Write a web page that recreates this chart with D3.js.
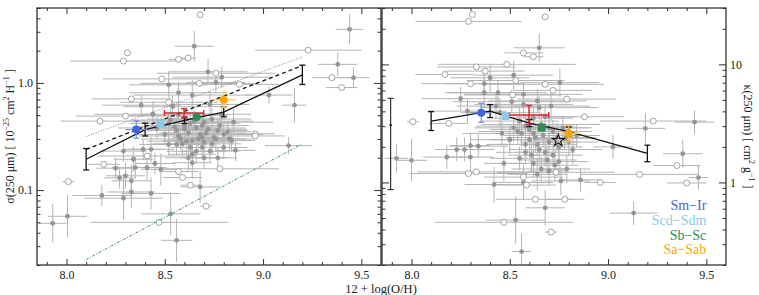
<!DOCTYPE html>
<html>
<head>
<meta charset="utf-8">
<script src="https://cdn.jsdelivr.net/npm/d3@7"></script>
<style>
  body { margin: 0; background: #fff; }
  svg { display: block; font-family: "Liberation Serif", "DejaVu Serif", serif; }
</style>
</head>
<body>
<svg id="chart" width="759" height="295"></svg>
<script>
// --- data ---
const ohDomain = [7.85, 9.6];
const sigmaDomain = [0.02, 5];
const kappaDomain = [0.2, 30];

// gray galaxies, filled: [12+log(O/H), value, err O/H, err (dex)]
const sigmaFilled = [
  [9.44,3.16,0.07,0.14],[8.65,2.2,0.1,0.14],[9.38,1.49,0.1,0.11],[9.46,1.12,0.08,0.1],
  [9.03,0.77,0.12,0.08],[9.16,0.62,0.06,0.16],[8.72,1.27,0.2,0.12],[8.79,1.13,0.25,0.1],
  [8.52,0.96,0.2,0.12],[8.57,0.81,0.25,0.1],[8.38,0.62,0.2,0.1],[8.44,0.51,0.3,0.12],
  [8.76,1.01,0.15,0.1],[8.64,0.77,0.3,0.14],[8.73,0.63,0.2,0.12],[8.54,0.6,0.25,0.1],
  [8.79,0.51,0.15,0.1],[8.52,0.42,0.2,0.1],[8.56,0.36,0.15,0.12],[8.6,0.4,0.2,0.1],
  [8.62,0.34,0.15,0.1],[8.66,0.38,0.25,0.12],[8.68,0.33,0.2,0.1],[8.7,0.43,0.15,0.08],
  [8.72,0.37,0.2,0.1],[8.75,0.31,0.1,0.1],[8.78,0.4,0.15,0.1],[8.82,0.35,0.12,0.1],
  [8.85,0.43,0.2,0.12],[8.58,0.3,0.2,0.1],[8.64,0.29,0.15,0.12],[8.5,0.33,0.15,0.1],
  [8.46,0.38,0.2,0.1],[8.7,0.28,0.15,0.1],[7.93,0.049,0.07,0.18],[8.005,0.057,0.1,0.2],
  [8.18,0.089,0.15,0.1],[8.29,0.084,0.2,0.2],[8.33,0.096,0.12,0.15],[8.43,0.093,0.15,0.15],
  [8.53,0.06,0.15,0.2],[8.56,0.034,0.08,0.2],[8.68,0.107,0.1,0.15],[9.13,0.26,0.12,0.08],
  [8.25,0.16,0.1,0.1],[8.30,0.136,0.1,0.12],[8.27,0.13,0.08,0.1],[8.33,0.122,0.1,0.15],
  [8.34,0.194,0.1,0.12],[8.35,0.162,0.12,0.1],[8.41,0.162,0.1,0.12],[8.48,0.156,0.1,0.15],
  [8.45,0.177,0.1,0.1],[8.29,0.231,0.12,0.1],[8.39,0.24,0.1,0.1],[8.43,0.24,0.12,0.12],
  [8.56,0.267,0.15,0.1],[8.64,0.216,0.12,0.12],[8.64,0.18,0.1,0.15],[8.73,0.231,0.15,0.1],
  [8.80,0.25,0.12,0.1],[8.86,0.235,0.1,0.1],[8.76,0.30,0.15,0.12],[8.83,0.30,0.12,0.1],
  [8.61,0.286,0.2,0.12],[8.69,0.31,0.15,0.1],[8.52,0.267,0.15,0.1],[8.57,0.32,0.2,0.1],
  [8.69,0.25,0.12,0.1],[8.63,0.25,0.1,0.1],
  [8.53,0.45,0.2,0.1],[8.57,0.5,0.25,0.12],[8.61,0.46,0.2,0.1],[8.65,0.44,0.3,0.1],
  [8.69,0.4,0.2,0.12],[8.74,0.46,0.2,0.1],[8.77,0.36,0.15,0.12],[8.8,0.33,0.2,0.1],
  [8.84,0.29,0.12,0.1],[8.6,0.37,0.2,0.12],[8.63,0.42,0.25,0.1],[8.67,0.3,0.15,0.1],
  [8.71,0.34,0.2,0.12],[8.74,0.27,0.15,0.1],[8.55,0.39,0.2,0.1],[8.59,0.27,0.15,0.1],
  [8.66,0.23,0.15,0.12],[8.7,0.2,0.12,0.1],[8.62,0.2,0.12,0.12],[8.77,0.2,0.1,0.1]
];
// gray galaxies, open: [12+log(O/H), value, err O/H]
const sigmaOpen = [
  [8.68,4.33,0],[8.31,1.91,0],[8.29,1.6,0.27],[8.57,1.66,0.05],[8.62,1.71,0.04],
  [9.23,2.02,0.27],[9.35,1.12,0.1],[9.40,0.905,0.08],[8.485,1.09,0.3],[8.676,0.99,0.3],
  [8.76,1.23,0.3],[8.88,0.97,0.2],[8.33,0.71,0.2],[8.30,0.49,0.25],[8.17,0.44,0.2],
  [8.52,0.66,0.25],[8.96,0.335,0.1],[8.19,0.174,0.08],[8.01,0.12,0.03],[8.57,0.149,0.1],
  [8.59,0.131,0.1],[8.63,0.111,0.05],[8.78,0.158,0.3],[8.71,0.0707,0.03],[8.47,0.05,0.35],
  [8.96,0.32,0.15],[8.41,0.208,0.25]
];
const kappaFilled = [
  [8.65,13.8,0.13,0.12],[9.44,3.24,0.1,0.1],[9.19,2.87,0.1,0.13],[8.40,7.7,0.2,0.12],
  [8.52,8.1,0.2,0.12],[8.37,6.86,0.2,0.1],[8.44,5.75,0.25,0.1],[8.37,5.75,0.2,0.12],
  [8.57,5.57,0.3,0.1],[8.755,7.0,0.2,0.12],[8.25,5.12,0.2,0.1],[8.285,4.02,0.2,0.1],
  [8.51,4.83,0.3,0.1],[8.64,4.9,0.25,0.1],[8.57,4.58,0.25,0.1],[8.65,4.3,0.3,0.1],
  [8.71,4.43,0.2,0.12],[8.43,4.43,0.2,0.1],[8.45,3.9,0.2,0.12],[8.55,3.31,0.2,0.12],
  [8.62,3.5,0.2,0.1],[8.68,3.6,0.15,0.1],[8.52,2.9,0.2,0.12],[8.56,2.6,0.15,0.12],
  [8.6,2.8,0.2,0.1],[8.63,2.4,0.15,0.12],[8.67,2.5,0.2,0.1],[8.7,2.2,0.15,0.12],
  [8.72,2.7,0.2,0.1],[8.75,2.0,0.12,0.12],[8.78,2.35,0.15,0.1],[8.58,2.1,0.2,0.12],
  [8.65,1.9,0.15,0.1],[8.5,2.3,0.2,0.12],[8.46,2.6,0.2,0.1],[8.82,1.9,0.15,0.12],
  [8.61,1.7,0.12,0.14],[8.69,1.55,0.15,0.12],[7.924,1.6,0.06,0.12],[8.0,1.54,0.08,0.18],
  [8.18,1.64,0.12,0.1],[8.27,1.9,0.15,0.1],[8.30,1.64,0.12,0.12],[8.34,2.03,0.15,0.1],
  [8.42,0.96,0.15,0.15],[8.47,1.45,0.1,0.15],[8.57,1.0,0.15,0.15],[8.68,0.61,0.1,0.15],
  [8.53,0.48,0.15,0.2],[8.56,0.26,0.05,0.15],[9.13,0.55,0.12,0.1],[9.38,1.75,0.1,0.12],
  [9.46,1.1,0.05,0.1],[9.025,2.0,0.1,0.1],[8.76,1.03,0.15,0.12],[8.64,1.17,0.15,0.14],
  [8.79,1.3,0.12,0.12],[8.86,1.05,0.1,0.1],[8.3,2.05,0.1,0.1],[8.23,1.9,0.1,0.1],
  [8.54,2.7,0.2,0.1],[8.58,3.0,0.25,0.1],[8.62,2.6,0.2,0.12],[8.66,3.1,0.3,0.1],
  [8.7,2.9,0.2,0.1],[8.74,2.4,0.2,0.12],[8.77,2.9,0.15,0.1],[8.8,2.2,0.15,0.12],
  [8.84,2.5,0.12,0.1],[8.6,2.3,0.2,0.12],[8.64,2.1,0.2,0.1],[8.68,1.8,0.15,0.12],
  [8.72,1.7,0.15,0.1],[8.75,1.5,0.15,0.12],[8.58,1.8,0.15,0.1],[8.62,1.45,0.12,0.12],
  [8.66,1.3,0.15,0.1],[8.7,1.25,0.1,0.12],[8.55,1.6,0.15,0.1],[8.73,1.4,0.12,0.14]
];
const kappaOpen = [
  [8.31,26.4,0],[8.29,23.1,0.27],[8.68,25.2,0],[8.57,12.5,0.1],[8.62,11.6,0.05],
  [8.33,9.5,0.2],[8.485,10,0.35],[8.17,8.2,0.15],[8.3,6.86,0.25],[8.375,8.77,0.2],
  [8.53,7.3,0.25],[8.515,5.5,0.25],[8.68,6.77,0.3],[8.72,6.02,0.2],[8.79,5.08,0.25],
  [8.88,3.6,0.2],[9.23,3.31,0.27],[8.007,3.27,0.03],[8.19,3.16,0.1],[8.29,1.19,0.3],
  [8.33,1.23,0.3],[8.57,1.11,0.2],[8.585,0.95,0.15],[8.63,0.72,0.2],[8.78,0.72,0.1],
  [8.735,1.22,0.3],[8.96,1.0,0.08],[9.16,1.17,0.3],[9.35,1.39,0.12],[9.40,0.99,0.1],
  [8.47,0.46,0.35],[8.71,0.38,0.03]
];

// binned means (black)
const binOH = [8.1, 8.4, 8.6, 8.8, 9.2];
const sigmaBin = [0.194, 0.367, 0.448, 0.535, 1.19];
const sigmaBinErr = [0.1, 0.06, 0.03, 0.045, 0.09];
const kappaBin = [3.31, 4.02, 3.18, 2.69, 1.76];
const kappaBinErr = [0.08, 0.055, 0.03, 0.04, 0.07];

// straight relations in the left panel
const sigmaDashed = [[8.1, 0.24], [9.2, 1.45]];
const sigmaDotted = [[8.1, 0.316], [9.2, 1.75]];
const sigmaGreen = [[8.1, 0.0225], [9.2, 0.27]];

// morphological types
const typeNames = ["Sm\u2212Ir", "Scd\u2212Sdm", "Sb\u2212Sc", "Sa\u2212Sab"];
const typeColors = ["#3f66d9", "#8ccbe8", "#2e8b57", "#ffa500"];
const typeErrColors = ["#6f8ee6", "#a9d9ef", "#2e8b57", "#ffc25a"];
const typeOH = [8.355, 8.478, 8.662, 8.80];
const typeErrOH = [0.055, 0.0, 0.0, 0.06];
const typeSigma = [0.367, 0.417, 0.481, 0.696];
const typeKappa = [3.89, 3.65, 2.91, 2.6];
const typeErrDex = [0.08, 0.0, 0.0, 0.07];

// whole sample (red)
const redOH = 8.598, redErrOH = 0.1;
const redSigma = [0.524, 0.471, 0.575];
const redKappa = [3.72, 3.1, 4.49];

// Milky Way star and representative error bar
const starOH = 8.747, starKappa = 2.27;
const repOH = 7.894, repKappa = [3.06, 0.87, 5.15];

// --- layout ---
const svg = d3.select("#chart");
const marginTop = 8, ph = 257, pw = 344;
const panels = [
  { x0: 37, domain: sigmaDomain, labelSide: "left", major: [0.1, 1], fmt: d3.format(".1f"),
    filled: sigmaFilled, open: sigmaOpen, bin: sigmaBin, binErr: sigmaBinErr, types: typeSigma, red: redSigma },
  { x0: 382, domain: kappaDomain, labelSide: "right", major: [1, 10], fmt: d3.format("d"),
    filled: kappaFilled, open: kappaOpen, bin: kappaBin, binErr: kappaBinErr, types: typeKappa, red: redKappa }
];

const minorOf = (dom, major) => {
  const out = [];
  for (let e = -3; e <= 2; e++) for (let m = 1; m < 10; m++) {
    const v = m * Math.pow(10, e);
    if (v >= dom[0] * 0.999 && v <= dom[1] * 1.001 && !major.some(M => Math.abs(M - v) < 1e-9)) out.push(v);
  }
  return out;
};

panels.forEach((p, pi) => {
  const g = svg.append("g").attr("transform", `translate(${p.x0},${marginTop})`);
  const x = d3.scaleLinear().domain(ohDomain).range([0, pw]);
  const y = d3.scaleLog().domain(p.domain).range([ph, 0]);

  g.append("clipPath").attr("id", "clip" + pi)
    .append("rect").attr("width", pw).attr("height", ph);
  const plot = g.append("g").attr("clip-path", `url(#clip${pi})`);

  // gray error bars
  const eb = plot.append("g").attr("stroke", "#b4b4b4").attr("stroke-width", 1);
  p.filled.forEach(d => {
    eb.append("line").attr("x1", x(d[0] - d[2])).attr("x2", x(d[0] + d[2]))
      .attr("y1", y(d[1])).attr("y2", y(d[1]));
    eb.append("line").attr("x1", x(d[0])).attr("x2", x(d[0]))
      .attr("y1", y(d[1] * Math.pow(10, -d[3]))).attr("y2", y(d[1] * Math.pow(10, d[3])));
  });
  p.open.forEach(d => {
    if (d[2] > 0) eb.append("line").attr("x1", x(d[0] - d[2])).attr("x2", x(d[0] + d[2]))
      .attr("y1", y(d[1])).attr("y2", y(d[1]));
  });

  plot.append("g").selectAll("circle").data(p.filled).join("circle")
    .attr("cx", d => x(d[0])).attr("cy", d => y(d[1])).attr("r", 2.4)
    .attr("fill", "#959595");
  plot.append("g").selectAll("circle").data(p.open).join("circle")
    .attr("cx", d => x(d[0])).attr("cy", d => y(d[1])).attr("r", 3)
    .attr("fill", "#fff").attr("stroke", "#9a9a9a").attr("stroke-width", 0.9);

  // straight relations (left panel)
  const line = d3.line().x(d => x(d[0])).y(d => y(d[1]));
  if (pi === 0) {
    plot.append("path").datum(sigmaDotted).attr("d", line).attr("fill", "none")
      .attr("stroke", "#666").attr("stroke-width", 0.8).attr("stroke-dasharray", "1,1.6");
    plot.append("path").datum(sigmaDashed).attr("d", line).attr("fill", "none")
      .attr("stroke", "#111").attr("stroke-width", 1.3).attr("stroke-dasharray", "4,3");
    plot.append("path").datum(sigmaGreen).attr("d", line).attr("fill", "none")
      .attr("stroke", "#2e8b57").attr("stroke-width", 0.9).attr("stroke-dasharray", "3,1.5,1,1.5");
  }

  // binned means
  const bins = binOH.map((o, i) => [o, p.bin[i], p.binErr[i]]);
  plot.append("path").datum(bins).attr("d", line).attr("fill", "none")
    .attr("stroke", "#111").attr("stroke-width", 1.3);
  const be = plot.append("g").attr("stroke", "#111").attr("stroke-width", 1.3);
  bins.forEach(d => {
    const y1 = y(d[1] * Math.pow(10, -d[2])), y2 = y(d[1] * Math.pow(10, d[2]));
    be.append("line").attr("x1", x(d[0])).attr("x2", x(d[0])).attr("y1", y1).attr("y2", y2);
    [y1, y2].forEach(yy => be.append("line").attr("x1", x(d[0]) - 3).attr("x2", x(d[0]) + 3)
      .attr("y1", yy).attr("y2", yy));
  });

  // whole-sample red cross
  const rc = plot.append("g").attr("stroke", "#e0202a").attr("stroke-width", 1.4);
  rc.append("line").attr("x1", x(redOH - redErrOH)).attr("x2", x(redOH + redErrOH))
    .attr("y1", y(p.red[0])).attr("y2", y(p.red[0]));
  rc.append("line").attr("x1", x(redOH)).attr("x2", x(redOH))
    .attr("y1", y(p.red[1])).attr("y2", y(p.red[2]));
  [redOH - redErrOH, redOH + redErrOH].forEach(o => rc.append("line")
    .attr("x1", x(o)).attr("x2", x(o)).attr("y1", y(p.red[0]) - 3).attr("y2", y(p.red[0]) + 3));
  [p.red[1], p.red[2]].forEach(v => rc.append("line")
    .attr("x1", x(redOH) - 3).attr("x2", x(redOH) + 3).attr("y1", y(v)).attr("y2", y(v)));

  // morphological types
  typeOH.forEach((o, i) => {
    const v = p.types[i], cx = x(o), cy = y(v);
    const tg = plot.append("g");
    if (typeErrOH[i] > 0) {
      const ec = typeErrColors[i];
      tg.append("line").attr("x1", x(o - typeErrOH[i])).attr("x2", x(o + typeErrOH[i]))
        .attr("y1", cy).attr("y2", cy).attr("stroke", ec).attr("stroke-width", 1.2);
      const ya = y(v * Math.pow(10, -typeErrDex[i])), yb = y(v * Math.pow(10, typeErrDex[i]));
      tg.append("line").attr("x1", cx).attr("x2", cx).attr("y1", ya).attr("y2", yb)
        .attr("stroke", ec).attr("stroke-width", 1.2);
      [ya, yb].forEach(yy => tg.append("line").attr("x1", cx - 3).attr("x2", cx + 3)
        .attr("y1", yy).attr("y2", yy).attr("stroke", ec).attr("stroke-width", 1.2));
    }
    if (i === 1 || (i === 2 && pi === 1)) {
      tg.append("rect").attr("x", cx - 4).attr("y", cy - 4).attr("width", 8).attr("height", 8)
        .attr("fill", typeColors[i]);
    } else {
      tg.append("circle").attr("cx", cx).attr("cy", cy).attr("r", 4).attr("fill", typeColors[i]);
    }
  });

  if (pi === 1) {
    // Milky Way
    const star = d3.symbol().type(d3.symbolStar).size(45);
    plot.append("path").attr("d", star)
      .attr("transform", `translate(${x(starOH)},${y(starKappa)})`)
      .attr("fill", "none").attr("stroke", "#111").attr("stroke-width", 1.1);
    // representative error bar
    const rg = plot.append("g").attr("stroke", "#222").attr("stroke-width", 1.1);
    rg.append("line").attr("x1", x(repOH)).attr("x2", x(repOH))
      .attr("y1", y(repKappa[1])).attr("y2", y(repKappa[2]));
    [repKappa[1], repKappa[2]].forEach(v => rg.append("line")
      .attr("x1", x(repOH) - 3).attr("x2", x(repOH) + 3).attr("y1", y(v)).attr("y2", y(v)));
    plot.append("circle").attr("cx", x(repOH)).attr("cy", y(repKappa[0])).attr("r", 1.3).attr("fill", "#222");

    // legend
    typeNames.forEach((n, i) => {
      g.append("text").attr("x", x(9.5)).attr("y", 202 + i * 14.8)
        .attr("text-anchor", "end").attr("font-size", 14).attr("fill", typeColors[i]).text(n);
    });
  }

  // axes: ticks pointing inward on all sides
  const axStyle = sel => {
    sel.select(".domain").remove();
    sel.selectAll("line").attr("stroke", "#333").attr("stroke-width", 1);
    sel.selectAll("text").attr("font-size", 12).attr("fill", "#222")
      .attr("font-family", "Liberation Serif, serif");
  };
  const xMajor = [8.0, 8.5, 9.0, 9.5];
  const xMinor = d3.range(79, 96).map(v => v / 10).filter(v => !xMajor.some(m => Math.abs(m - v) < 1e-9));
  g.append("g").attr("transform", `translate(0,${ph})`)
    .call(d3.axisBottom(x).tickValues(xMajor).tickSize(-6).tickPadding(5).tickFormat(d3.format(".1f"))).call(axStyle);
  g.append("g").attr("transform", `translate(0,${ph})`)
    .call(d3.axisBottom(x).tickValues(xMinor).tickSize(-3).tickFormat("")).call(axStyle);
  g.append("g").call(d3.axisTop(x).tickValues(xMajor).tickSize(-6).tickFormat("")).call(axStyle);
  g.append("g").call(d3.axisTop(x).tickValues(xMinor).tickSize(-3).tickFormat("")).call(axStyle);

  const yMinor = minorOf(p.domain, p.major);
  const leftLab = p.labelSide === "left";
  g.append("g").call(d3.axisLeft(y).tickValues(p.major).tickSize(-7).tickPadding(4)
    .tickFormat(leftLab ? p.fmt : "")).call(axStyle);
  g.append("g").call(d3.axisLeft(y).tickValues(yMinor).tickSize(-3.5).tickFormat("")).call(axStyle);
  g.append("g").attr("transform", `translate(${pw},0)`)
    .call(d3.axisRight(y).tickValues(p.major).tickSize(-7).tickPadding(4)
      .tickFormat(leftLab ? "" : p.fmt)).call(axStyle);
  g.append("g").attr("transform", `translate(${pw},0)`)
    .call(d3.axisRight(y).tickValues(yMinor).tickSize(-3.5).tickFormat("")).call(axStyle);

  g.append("rect").attr("width", pw).attr("height", ph)
    .attr("fill", "none").attr("stroke", "#333").attr("stroke-width", 1.3);
});

// axis titles
svg.append("text").attr("x", 381).attr("y", 293).attr("text-anchor", "middle")
  .attr("font-size", 12.5).attr("fill", "#222").text("12 + log(O/H)");

const yl = svg.append("text").attr("transform", `translate(14,${marginTop + ph / 2}) rotate(-90)`)
  .attr("text-anchor", "middle").attr("font-size", 12).attr("fill", "#222");
yl.append("tspan").text("\u03c3(250 \u03bcm)  [ 10");
yl.append("tspan").attr("dy", -5).attr("font-size", 8).text("\u221225");
yl.append("tspan").attr("dy", 5).text(" cm");
yl.append("tspan").attr("dy", -5).attr("font-size", 8).text("2");
yl.append("tspan").attr("dy", 5).text(" H");
yl.append("tspan").attr("dy", -5).attr("font-size", 8).text("\u22121");
yl.append("tspan").attr("dy", 5).text(" ]");

const yr = svg.append("text").attr("transform", `translate(744,${marginTop + ph / 2}) rotate(90)`)
  .attr("text-anchor", "middle").attr("font-size", 12).attr("fill", "#222");
yr.append("tspan").text("\u03ba(250 \u03bcm)  [ cm");
yr.append("tspan").attr("dy", -5).attr("font-size", 8).text("2");
yr.append("tspan").attr("dy", 5).text(" g");
yr.append("tspan").attr("dy", -5).attr("font-size", 8).text("\u22121");
yr.append("tspan").attr("dy", 5).text(" ]");
</script>
</body>
</html>
